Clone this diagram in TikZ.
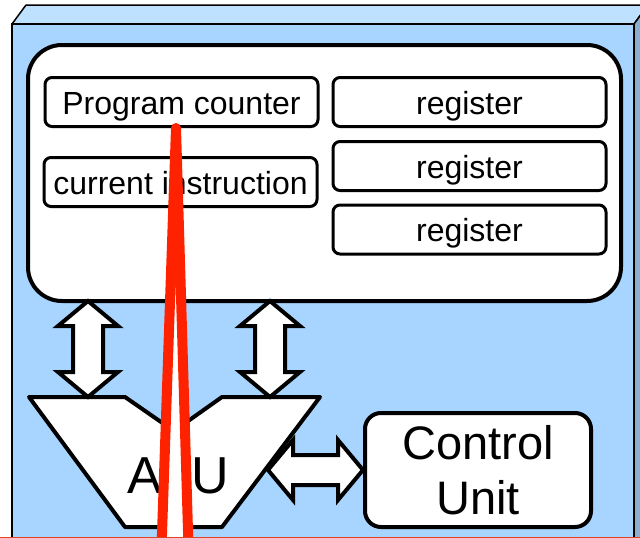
\documentclass[tikz,border=0pt]{standalone}
\usepackage{fontspec}
\setmainfont{Liberation Sans}
\usetikzlibrary{calc}

\definecolor{boxfront}{RGB}{168,213,255}
\definecolor{boxtop}{RGB}{190,225,255}
\definecolor{boxside}{RGB}{142,174,206}
\definecolor{wedgered}{RGB}{255,34,0}
\definecolor{rulered}{RGB}{226,66,38}

\tikzset{
  cell/.style={draw, fill=white, line width=3pt, rounded corners=7pt,
    minimum width=273pt, minimum height=49pt, inner sep=0pt,
    font=\fontsize{32}{36}\selectfont, text height=24pt, text depth=0pt},
  memory/.style={draw, fill=white, line width=4pt, rounded corners=34pt,
    minimum width=593pt, minimum height=256pt},
  ctrlbox/.style={draw, fill=white, line width=4pt, rounded corners=16pt,
    minimum width=226pt, minimum height=114pt, inner sep=0pt, align=center,
    font=\fontsize{47}{55}\selectfont},
  alushape/.style={draw, fill=white, line width=4pt, line join=round},
  busarrow/.style={draw, fill=white, line width=4pt, line join=miter},
  wedge/.style={draw=wedgered, fill=white, line width=10pt, line cap=round, line join=round},
}

% double-headed block arrow between two named points
\newcommand{\busbetween}[2]{%
  \path[busarrow] (#1)
    -- ($(#1)!25pt!(#2)!30pt!90:(#2)$)
    -- ($(#1)!25pt!(#2)!15pt!90:(#2)$)
    -- ($(#2)!25pt!(#1)!15pt!-90:(#1)$)
    -- ($(#2)!25pt!(#1)!30pt!-90:(#1)$)
    -- (#2)
    -- ($(#2)!25pt!(#1)!30pt!90:(#1)$)
    -- ($(#2)!25pt!(#1)!15pt!90:(#1)$)
    -- ($(#1)!25pt!(#2)!15pt!-90:(#2)$)
    -- ($(#1)!25pt!(#2)!30pt!-90:(#2)$)
    -- cycle;}

\begin{document}
\begin{tikzpicture}[x=1pt, y=-1pt]
\useasboundingbox (0,0) rectangle (640,538);
\begin{scope}
\clip (0,0) rectangle (640,538);

% the blue case, drawn as a box in perspective
\draw[fill=boxtop, line width=1.5pt, line join=round]
  (12,24) -- (26,5) -- (648,5) -- (634,24) -- cycle;
\draw[fill=boxside, line width=1.5pt, line join=round]
  (634,24) -- (648,5) -- (648,560) -- (634,560) -- cycle;
\draw[fill=boxfront, line width=2pt] (12,560) -- (12,24) -- (634,24) -- (634,560);

% register file
\node[memory] (mem) at (324.5,173) {};
\node[cell] (pc)  at (181.5,102) {Program counter};
\node[cell] (ci)  at (180.5,182) {current instruction};
\node[cell] (r1)  at (469.5,102) {register};
\node[cell] (r2)  at (469.5,166) {register};
\node[cell] (r3)  at (469.5,229.5) {register};

% arithmetic logic unit
\path[alushape] (29,397) -- (125,397) -- (174,431) -- (222,397) -- (320,397)
  -- (222,527) -- (125,527) -- cycle;
\node[font=\fontsize{52}{60}\selectfont, anchor=base] (alu) at (178.5,493) {ALU};

% control unit
\node[ctrlbox] (cu) at (478,470) {Control\\Unit};

% buses
\coordinate (busAtop) at (88,301);
\coordinate (busAbot) at (88,397);
\coordinate (busBtop) at (270,301);
\coordinate (busBbot) at (270,397);
\coordinate (busCl) at (268,470);
\coordinate (busCr) at (cu.west);
\busbetween{busAtop}{busAbot}
\busbetween{busBtop}{busBbot}
\busbetween{busCl}{busCr}

% red wedge over the drawing, white inside
\coordinate (wtop) at (176,128);
\coordinate (wl) at (161.5,548);
\coordinate (wr) at (188.5,548);
\draw[wedge] (wl) -- (wtop) -- (wr) -- cycle;
\draw[rulered, line width=1.5pt] (0,537.4) -- (640,537.4);
\end{scope}
\end{tikzpicture}
\end{document}
